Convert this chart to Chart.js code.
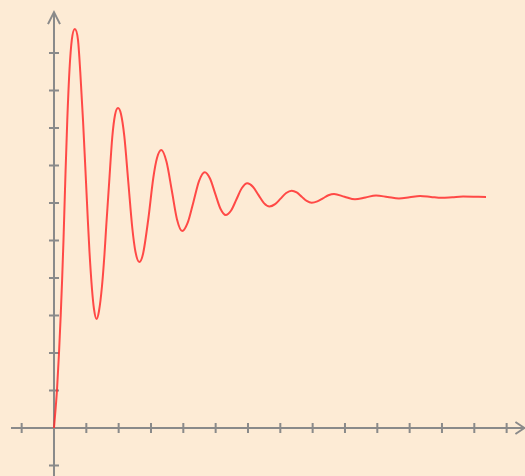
<!DOCTYPE html>
<html>
<head>
<meta charset="utf-8">
<script src="https://cdn.jsdelivr.net/npm/chart.js@4/dist/chart.umd.min.js"></script>
<style>
  html, body { margin: 0; padding: 0; background: #fdebd5; }
  #wrap { width: 525px; height: 476px; }
</style>
</head>
<body>
<div id="wrap"><canvas id="c" width="525" height="476"></canvas></div>
<script>
// Response curve (x: time units, y: value units)
const timeValues = [
  0, 0.093, 0.155, 0.207, 0.251, 0.294, 0.331, 0.359, 0.411, 0.479, 0.551, 0.643,
  0.742, 0.813, 0.897, 0.968, 1.045, 1.098, 1.175, 1.237, 1.315,
  1.392, 1.485, 1.562, 1.618, 1.701, 1.803, 1.887, 1.980,
  2.072, 2.174, 2.298, 2.422, 2.521, 2.638,
  2.753, 2.917, 3.071, 3.186, 3.319,
  3.480, 3.644, 3.803, 3.964,
  4.139, 4.315, 4.488, 4.663,
  4.825, 4.986, 5.149, 5.311,
  5.478, 5.645, 5.812, 5.979,
  6.151, 6.322, 6.494, 6.666,
  6.838, 7.009, 7.181, 7.352,
  7.507, 7.662, 7.816, 7.971,
  8.144, 8.317, 8.488, 8.661,
  8.985, 9.310, 9.635, 9.960,
  10.315, 10.671, 10.996, 11.321, 11.657, 11.992, 12.320, 12.651, 13.362
];
const responseValues = [
  0, 1.013, 2.0, 2.987, 3.947, 5.013, 6.08, 6.88, 8.213, 9.547, 10.347, 10.64,
  10.347, 9.493, 8.213, 6.96, 5.573, 4.693, 3.707, 3.173, 2.907,
  3.12, 3.787, 4.64, 5.413, 6.48, 7.76, 8.347, 8.533,
  8.373, 7.787, 6.56, 5.333, 4.693, 4.427,
  4.64, 5.573, 6.667, 7.2, 7.413,
  7.097, 6.333, 5.569, 5.253,
  5.482, 6.036, 6.590, 6.819,
  6.653, 6.250, 5.847, 5.680,
  5.801, 6.100, 6.399, 6.525,
  6.434, 6.216, 5.998, 5.907,
  5.969, 6.117, 6.266, 6.328,
  6.281, 6.168, 6.055, 6.008,
  6.042, 6.124, 6.206, 6.240,
  6.168, 6.099, 6.149, 6.200,
  6.16, 6.12, 6.152, 6.187, 6.163, 6.139, 6.155, 6.173, 6.16
];
// Axis tick positions (data units)
const xTicks = [-1, 1, 2, 3, 4, 5, 6, 7, 8, 9, 10, 11, 12, 13, 14];
const yTicks = [-1, 1, 2, 3, 4, 5, 6, 7, 8, 9, 10];
// Axis extents (data units)
const xAxisExtent = [-1.33, 14.55];
const yAxisExtent = [-1.3, 11.09];

const points = timeValues.map((t, i) => ({ x: t, y: responseValues[i] }));

const axesPlugin = {
  id: 'arrowAxes',
  beforeDatasetsDraw(chart) {
    const ctx = chart.ctx;
    const xs = chart.scales.x, ys = chart.scales.y;
    const x0 = xs.getPixelForValue(0), y0 = ys.getPixelForValue(0);
    const xl = xs.getPixelForValue(xAxisExtent[0]), xr = xs.getPixelForValue(xAxisExtent[1]);
    const yb = ys.getPixelForValue(yAxisExtent[0]), yt = ys.getPixelForValue(yAxisExtent[1]);
    ctx.save();
    ctx.strokeStyle = '#8a8a8a';
    ctx.lineWidth = 2;
    ctx.lineCap = 'butt';
    ctx.beginPath();
    ctx.moveTo(xl, y0); ctx.lineTo(xr, y0);
    ctx.moveTo(x0, yb); ctx.lineTo(x0, yt);
    ctx.stroke();
    ctx.beginPath();
    xTicks.forEach(v => {
      const p = xs.getPixelForValue(v);
      ctx.moveTo(p, y0 - 5); ctx.lineTo(p, y0 + 5);
    });
    yTicks.forEach(v => {
      const p = ys.getPixelForValue(v);
      ctx.moveTo(x0 - 5, p); ctx.lineTo(x0 + 5, p);
    });
    ctx.stroke();
    // arrowheads
    ctx.lineJoin = 'miter';
    ctx.beginPath();
    ctx.moveTo(xr - 9, y0 - 6); ctx.lineTo(xr, y0); ctx.lineTo(xr - 9, y0 + 6);
    ctx.moveTo(x0 - 6, yt + 12); ctx.lineTo(x0, yt); ctx.lineTo(x0 + 6, yt + 12);
    ctx.stroke();
    ctx.restore();
  }
};

new Chart(document.getElementById('c'), {
  type: 'line',
  data: {
    datasets: [{
      data: points,
      borderColor: 'rgba(255, 45, 45, 0.85)',
      borderWidth: 2,
      pointRadius: 0,
      fill: false,
      cubicInterpolationMode: 'monotone',
      clip: false
    }]
  },
  options: {
    responsive: false,
    devicePixelRatio: 1,
    animation: false,
    layout: { padding: 0 },
    plugins: { legend: { display: false }, tooltip: { enabled: false } },
    scales: {
      x: { type: 'linear', min: -1.670, max: 14.568, display: false },
      y: { type: 'linear', min: -1.28, max: 11.413, display: false }
    }
  },
  plugins: [axesPlugin]
});
</script>
</body>
</html>
